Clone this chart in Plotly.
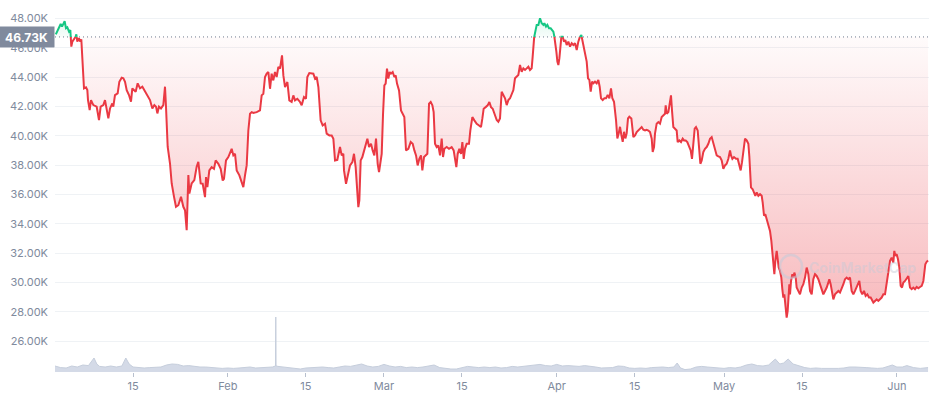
import numpy as np
import pandas as pd
import plotly.graph_objects as go

START = pd.Timestamp("2022-01-01 00:00")
BASE_PRICE = 46730.0

# ---- price data: day offsets from 2022-01-01 and prices in thousands USD ----
jan_days = [0.15, 0.6, 1.02, 1.26, 1.5, 1.73, 1.97, 2.21, 2.51, 2.75,
            2.93, 3.11, 3.41, 3.65, 3.83, 4.0, 4.3, 4.54, 4.72, 4.9,
            5.02, 5.2, 5.56, 5.8, 5.92, 6.22, 6.46, 6.88, 7.47, 7.89,
            8.19, 8.67, 8.97, 9.27, 9.57, 9.87, 10.28, 10.46, 10.76, 11.24,
            11.54, 11.96, 12.26, 12.56, 12.86, 13.27, 13.63, 13.87, 14.23, 14.47,
            14.83, 15.25, 15.67, 16.02, 16.62, 17.04, 17.46, 17.82, 18.12, 18.36,
            18.65, 19.01, 19.43, 19.73, 19.91, 20.21, 20.63, 20.93, 21.35, 21.7,
            22.12, 22.6, 23.02, 23.32, 23.62, 23.92, 24.1, 24.51, 24.99, 25.41,
            25.71, 26.13, 26.49, 26.73, 26.91, 27.09, 27.33, 27.68, 28.1, 28.52,
            28.82, 29.3, 29.72, 30.08, 30.31, 30.67]
jan_prices_k = [46.9, 47.32, 47.61, 47.43, 47.7, 47.8, 47.32, 47.39, 47.09, 47.2,
                46.07, 46.41, 46.57, 46.7, 46.91, 46.41, 46.64, 46.41, 46.57, 45.16,
                43.8, 43.23, 43.3, 43.11, 42.43, 41.75, 42.43, 42.09, 41.98, 41.07,
                41.98, 42.09, 42.43, 41.75, 41.18, 41.86, 42.2, 41.98, 42.77, 42.89,
                43.68, 43.95, 43.91, 43.68, 43.11, 42.77, 42.32, 43.23, 43.11, 43.0,
                43.57, 43.23, 43.34, 43.11, 42.77, 42.43, 41.86, 42.09, 41.98, 41.52,
                41.98, 41.86, 42.09, 43.34, 41.98, 39.25, 38.11, 36.75, 35.84, 35.16,
                35.27, 35.84, 35.16, 34.93, 33.57, 37.32, 36.07, 36.75, 36.98, 37.89,
                38.23, 36.75, 36.73, 36.05, 35.82, 37.18, 36.5, 37.64, 37.86, 37.75,
                38.32, 38.09, 37.75, 36.95, 37.07, 38.32]

feb_days = [31.09, 31.69, 31.99, 32.29, 32.59, 33.07, 33.48, 33.78, 34.08, 34.38,
            34.68, 34.98, 35.28, 35.58, 36.17, 36.77, 37.07, 37.37, 37.67, 37.97,
            38.27, 38.57, 38.86, 39.16, 39.46, 39.76, 40.06, 40.36, 40.72, 40.96,
            41.26, 41.68, 42.03, 42.45, 42.75, 43.05, 43.47, 43.95, 44.25, 44.66,
            45.02, 45.26, 45.62, 46.34, 46.64, 46.94, 47.24, 47.65, 48.01, 48.43,
            48.73, 49.21, 49.63, 49.93, 50.23, 50.64, 51.12, 51.42, 51.72, 51.84,
            52.2, 52.62, 52.92, 53.34, 53.63, 53.93, 54.23, 54.41, 54.59, 54.83,
            55.13, 55.43, 55.73, 56.03, 56.33, 56.68, 56.98, 57.28, 57.58, 57.88,
            58.12, 58.36, 58.6, 58.84]
feb_prices_k = [38.55, 39.11, 38.66, 38.77, 37.64, 37.3, 36.84, 36.5, 37.3, 37.98,
                40.36, 41.5, 41.61, 41.55, 41.61, 41.73, 42.75, 42.86, 44.0, 44.23,
                44.34, 43.2, 44.23, 43.77, 44.34, 44.0, 44.68, 44.57, 45.48, 44.11,
                43.32, 43.66, 42.41, 42.3, 42.75, 42.41, 42.52, 42.3, 42.07, 42.64,
                42.52, 44.0, 44.27, 44.23, 43.89, 44.0, 43.32, 41.05, 40.7, 40.82,
                40.14, 40.02, 40.02, 39.8, 38.32, 38.36, 39.23, 38.66, 38.77, 37.64,
                36.73, 37.52, 37.98, 38.2, 38.77, 37.86, 35.59, 35.14, 35.59, 38.32,
                38.55, 39.0, 39.34, 39.8, 39.23, 39.45, 39.0, 38.66, 39.8, 38.09,
                37.52, 38.32, 38.77, 41.5]

mar_days = [59.08, 59.31, 59.55, 59.79, 60.03, 60.27, 60.57, 60.87, 61.11, 61.35,
            61.71, 62.06, 62.36, 62.66, 62.96, 63.38, 63.8, 64.16, 64.46, 64.76,
            65.05, 65.35, 65.65, 65.89, 66.19, 66.49, 66.79, 67.09, 67.39, 67.69,
            67.92, 68.16, 68.46, 68.76, 69.06, 69.36, 69.6, 69.84, 70.26, 70.67,
            71.15, 71.51, 71.75, 71.99, 72.23, 72.53, 72.83, 73.07, 73.31, 73.54,
            73.84, 74.26, 74.5, 74.86, 75.22, 75.64, 76.06, 76.41, 76.65, 76.89,
            77.25, 77.61, 77.91, 78.21, 78.51, 78.93, 79.23, 79.52, 79.82, 80.12,
            80.42, 80.72, 81.02, 81.32, 81.62, 81.92, 82.22, 82.51, 82.81, 83.11,
            83.41, 83.71, 84.01, 84.31, 84.61, 84.91, 85.2, 85.5, 85.68, 85.92,
            86.1, 86.4, 86.7, 87.0, 87.3, 87.6, 87.78, 88.07, 88.31, 88.61,
            88.91, 89.21, 89.39, 89.57, 89.75, 89.93]
mar_prices_k = [43.43, 43.55, 44.57, 43.89, 44.34, 44.23, 44.34, 44.0, 44.11, 43.55,
                43.09, 41.73, 41.5, 41.27, 39.0, 39.11, 39.57, 39.45, 39.0, 38.66,
                37.98, 38.43, 38.66, 37.64, 38.55, 38.66, 38.77, 42.18, 42.3, 42.07,
                41.61, 39.45, 39.23, 39.34, 38.66, 39.8, 38.55, 39.11, 39.23, 39.11,
                39.23, 39.0, 38.55, 37.86, 38.77, 39.11, 38.77, 39.57, 38.43, 39.11,
                39.45, 39.45, 40.36, 41.27, 41.05, 40.82, 40.7, 40.59, 41.16, 41.84,
                41.95, 42.07, 42.3, 41.95, 41.84, 41.3, 41.07, 40.95, 41.18, 43.0,
                42.77, 42.55, 42.09, 42.43, 42.55, 42.89, 43.11, 43.91, 44.02, 44.14,
                44.82, 44.36, 44.59, 44.48, 44.59, 44.7, 44.48, 44.59, 45.39, 46.64,
                47.09, 47.55, 47.55, 48.0, 47.66, 47.55, 47.66, 47.43, 47.55, 47.32,
                47.32, 47.2, 47.09, 46.75, 45.95, 45.73]

apr_days = [90.11, 90.29, 90.47, 90.65, 90.83, 91.06, 91.3, 91.54, 91.78, 92.08,
            92.38, 92.68, 92.98, 93.28, 93.58, 93.87, 94.17, 94.41, 94.59, 94.83,
            95.07, 95.37, 95.61, 95.85, 96.09, 96.33, 96.56, 96.86, 97.16, 97.46,
            97.7, 97.94, 98.24, 98.54, 98.84, 99.14, 99.44, 99.73, 99.97, 100.27,
            100.63, 100.87, 101.11, 101.35, 101.59, 101.83, 102.07, 102.31, 102.54, 102.78,
            103.02, 103.38, 103.74, 104.04, 104.34, 104.63, 104.93, 105.23, 105.53, 105.83,
            106.13, 106.43, 106.73, 107.03, 107.21, 107.45, 107.62, 107.92, 108.22, 108.52,
            108.82, 109.12, 109.42, 109.54, 109.72, 110.02, 110.31, 110.49, 110.67, 110.91,
            111.21, 111.51, 111.69, 111.99, 112.29, 112.59, 112.83, 113.13, 113.42, 113.72,
            114.02, 114.26, 114.5, 114.74, 114.98, 115.28, 115.52, 115.76, 116.0, 116.29,
            116.59, 116.89, 117.19, 117.49, 117.79, 118.09, 118.39, 118.69, 118.98, 119.28,
            119.58, 119.88]
apr_prices_k = [45.05, 44.82, 45.27, 46.07, 46.75, 46.75, 46.41, 46.52, 46.18, 46.41,
                46.07, 46.3, 46.18, 46.3, 45.84, 46.41, 46.75, 46.86, 46.52, 45.84,
                45.39, 45.05, 43.91, 43.8, 43.0, 43.68, 43.57, 43.68, 43.57, 43.8,
                43.34, 42.55, 42.43, 42.55, 42.55, 42.77, 42.55, 43.23, 42.55, 42.32,
                41.07, 39.82, 40.16, 40.61, 40.05, 39.59, 40.27, 39.82, 40.16, 41.18,
                41.3, 41.18, 39.91, 40.02, 40.25, 40.36, 40.48, 40.59, 40.41, 40.36,
                40.41, 40.36, 40.25, 39.8, 38.89, 39.23, 40.14, 40.82, 40.93, 40.82,
                41.27, 41.39, 41.5, 42.07, 41.5, 41.61, 42.18, 42.75, 41.73, 40.59,
                40.48, 40.36, 39.57, 39.68, 39.57, 39.8, 39.68, 39.68, 39.57, 39.34,
                39.0, 38.43, 39.57, 40.48, 40.59, 40.36, 39.23, 38.09, 38.32, 38.89,
                39.11, 39.23, 39.45, 39.8, 39.91, 39.45, 39.0, 38.66, 38.59, 38.55,
                38.32, 37.75]

may_days = [120.18, 120.48, 120.78, 121.08, 121.26, 121.5, 121.79, 122.15, 122.45, 122.75,
            122.99, 123.23, 123.47, 123.77, 124.07, 124.37, 124.55, 124.84, 125.14, 125.38,
            125.62, 125.86, 126.16, 126.46, 126.76, 126.94, 127.18, 127.41, 127.65, 127.95,
            128.25, 128.49, 128.67, 128.85, 129.03, 129.21, 129.45, 129.63, 129.81, 130.04,
            130.28, 130.46, 130.64, 130.82, 131.06, 131.24, 131.42, 131.6, 131.72, 131.84,
            132.02, 132.26, 132.44, 132.62, 132.86, 133.03, 133.33, 133.63, 133.93, 134.23,
            134.53, 134.83, 135.13, 135.43, 135.73, 136.02, 136.32, 136.62, 136.92, 137.22,
            137.52, 137.82, 138.12, 138.42, 138.71, 138.89, 139.13, 139.37, 139.61, 139.91,
            140.21, 140.51, 140.81, 141.11, 141.41, 141.7, 142.0, 142.3, 142.6, 142.9,
            143.2, 143.5, 143.8, 144.1, 144.27, 144.51, 144.81, 145.11, 145.41, 145.71,
            146.01, 146.31, 146.61, 146.79, 147.09, 147.38, 147.68, 147.98, 148.28, 148.58,
            148.88, 149.06, 149.3, 149.54, 149.78, 150.07, 150.37, 150.55, 150.73, 150.97]
may_prices_k = [37.98, 38.09, 38.43, 39.0, 38.66, 38.43, 38.55, 38.43, 38.43, 37.98,
                37.64, 38.2, 38.89, 39.8, 39.68, 39.45, 38.55, 36.48, 36.36, 36.14,
                35.91, 36.14, 35.91, 36.02, 35.91, 35.45, 34.55, 34.66, 34.32, 33.98,
                33.52, 32.84, 31.93, 31.14, 30.57, 31.48, 32.16, 31.59, 31.02, 30.8,
                30.34, 29.55, 28.98, 29.2, 28.07, 27.61, 28.07, 29.43, 29.89, 29.2,
                30.11, 30.57, 30.34, 30.68, 30.34, 29.66, 29.43, 29.2, 29.66, 29.89,
                30.34, 31.02, 30.57, 29.43, 29.2, 30.23, 30.57, 30.45, 30.23, 29.89,
                29.55, 29.2, 29.43, 29.66, 30.0, 30.23, 29.89, 29.2, 28.86, 29.2,
                29.32, 29.43, 29.32, 29.55, 29.89, 30.23, 30.34, 30.23, 30.34, 29.43,
                29.2, 29.43, 29.66, 29.89, 30.11, 29.43, 29.2, 29.43, 29.09, 29.2,
                28.98, 28.98, 28.75, 28.64, 28.75, 28.86, 28.75, 28.86, 28.98, 29.2,
                29.2, 29.66, 30.34, 31.02, 31.48, 31.7, 31.36, 32.16, 31.82, 31.93]

jun_days = [151.21, 151.45, 151.69, 151.93, 152.17, 152.47, 152.77, 153.06, 153.36, 153.66,
            153.96, 154.26, 154.56, 154.86, 155.16, 155.46, 155.76, 155.93, 156.11, 156.35,
            156.6]
jun_prices_k = [31.59, 31.02, 29.77, 29.66, 30.0, 30.11, 30.34, 30.45, 29.66, 29.55,
                29.66, 29.55, 29.7, 29.61, 29.7, 29.77, 30.11, 30.8, 31.25, 31.41,
                31.5]

# ---- volume (billions USD) ----
vol_days = [0, 1, 2, 3, 4, 5, 6, 7, 7.5, 8, 9, 10, 11, 12, 12.7, 13.3, 14, 15, 16, 17,
            18, 19, 20, 21, 22, 23, 24, 25, 26, 27, 28, 29, 30, 31, 32, 33, 34, 35, 36, 37,
            38, 39, 39.55, 39.6, 39.65, 40, 41, 42, 43, 44, 45, 46, 47, 48, 49, 50, 51, 52, 53, 54,
            55, 56, 57, 58, 59, 60, 61, 62, 63, 64, 65, 66, 67, 68, 69, 70, 71, 72, 73, 74,
            75, 76, 77, 78, 79, 80, 81, 82, 83, 84, 85, 86, 87, 88, 89, 90, 91, 92, 93, 94,
            95, 96, 97, 98, 99, 100, 101, 102, 103, 104, 105, 106, 107, 108, 109, 110, 111, 111.6, 112.2, 113,
            114, 115, 116, 117, 118, 119, 120, 121, 122, 123, 124, 125, 126, 127, 128, 129.2, 130, 130.7, 131.5, 132.4,
            133.5, 134.5, 135.5, 136.5, 137.5, 138.5, 139.5, 140.5, 141.5, 142.5, 143.5, 144.5, 145.5, 146.5, 147.5, 148.5, 149.5, 150.2, 151, 152,
            152.8, 154, 155.2, 156.6]
vol_billions = [30, 22, 20, 30, 25, 35, 32, 70, 40, 28, 25, 30, 25, 30, 70, 40, 25, 22, 20, 22,
                22, 25, 35, 40, 38, 30, 32, 28, 25, 25, 22, 20, 18, 20, 18, 20, 22, 25, 20, 22,
                25, 25, 30, 275, 30, 28, 25, 22, 20, 15, 20, 22, 22, 25, 22, 20, 25, 30, 28, 35,
                40, 30, 25, 28, 38, 30, 25, 28, 22, 25, 22, 25, 30, 35, 22, 18, 15, 15, 22, 28,
                25, 22, 25, 22, 25, 20, 22, 28, 25, 28, 30, 35, 38, 32, 30, 38, 30, 32, 30, 28,
                32, 30, 25, 20, 20, 22, 30, 28, 20, 18, 20, 18, 22, 25, 25, 22, 25, 45, 20, 12,
                15, 25, 28, 25, 22, 20, 18, 22, 20, 25, 35, 40, 32, 30, 35, 65, 40, 45, 65, 40,
                30, 22, 18, 20, 18, 18, 15, 18, 20, 25, 25, 22, 22, 20, 18, 20, 28, 35, 25, 25,
                32, 22, 18, 22]

x_tick_dates = ["2022-01-15", "2022-02-01", "2022-02-15", "2022-03-01", "2022-03-15",
                "2022-04-01", "2022-04-15", "2022-05-01", "2022-05-15", "2022-06-01"]
x_tick_labels = ["15", "Feb", "15", "Mar", "15", "Apr", "15", "May", "15", "Jun"]
y_tick_values = [26000, 28000, 30000, 32000, 34000, 36000, 38000, 40000, 42000, 44000, 46000, 48000]
y_tick_labels = ["26.00K", "28.00K", "30.00K", "32.00K", "34.00K", "36.00K", "38.00K",
                 "40.00K", "42.00K", "44.00K", "46.00K", "48.00K"]

# ---- build series ----
days = np.array(jan_days + feb_days + mar_days + apr_days + may_days + jun_days, dtype=float)
prices = np.array(jan_prices_k + feb_prices_k + mar_prices_k + apr_prices_k
                  + may_prices_k + jun_prices_k, dtype=float) * 1000.0
n = min(len(days), len(prices))
days, prices = days[:n], prices[:n]
order = np.argsort(days, kind="stable")
days, prices = days[order], prices[order]

# insert baseline crossings so the line can switch colour exactly at the baseline
aug_d, aug_p = [days[0]], [prices[0]]
for i in range(1, n):
    d0, p0, d1, p1 = days[i - 1], prices[i - 1], days[i], prices[i]
    if (p0 - BASE_PRICE) * (p1 - BASE_PRICE) < 0:
        t = (BASE_PRICE - p0) / (p1 - p0)
        aug_d.append(d0 + t * (d1 - d0))
        aug_p.append(BASE_PRICE)
    aug_d.append(d1)
    aug_p.append(p1)
aug_d = np.array(aug_d)
aug_p = np.array(aug_p)
xs = START + pd.to_timedelta(aug_d, unit="D")

red_y = [p if p <= BASE_PRICE else None for p in aug_p]
green_y = [p if p >= BASE_PRICE else None for p in aug_p]

vm = min(len(vol_days), len(vol_billions))
vol_x = START + pd.to_timedelta(np.array(vol_days[:vm], dtype=float), unit="D")
vol_y = vol_billions[:vm]

Y_MIN, Y_MAX = 23909, 49246
X_END = START + pd.to_timedelta(156.77, unit="D")

RED = "#EA3943"
GREEN = "#16C784"
GREY = "#808A9D"
NOLINE = dict(color="rgba(0,0,0,0)", width=0)

fig = go.Figure()

fig.add_trace(go.Scatter(x=vol_x, y=vol_y, yaxis="y2", mode="lines", fill="tozeroy",
                         line=dict(color="#C6CEDC", width=1),
                         fillcolor="rgba(207,214,228,0.9)", hoverinfo="skip"))

fig.add_trace(go.Scatter(x=xs, y=[BASE_PRICE] * len(xs), mode="lines", line=NOLINE,
                         hoverinfo="skip"))
fig.add_trace(go.Scatter(x=xs, y=np.minimum(aug_p, BASE_PRICE), mode="lines", line=NOLINE,
                         fill="tonexty", fillcolor="rgba(234,57,67,0.15)",
                         fillgradient=dict(type="vertical",
                                           colorscale=[[0, "rgba(234,57,67,0.42)"],
                                                       [1, "rgba(234,57,67,0.02)"]],
                                           start=Y_MIN, stop=BASE_PRICE),
                         hoverinfo="skip"))
fig.add_trace(go.Scatter(x=xs, y=[BASE_PRICE] * len(xs), mode="lines", line=NOLINE,
                         hoverinfo="skip"))
fig.add_trace(go.Scatter(x=xs, y=np.maximum(aug_p, BASE_PRICE), mode="lines", line=NOLINE,
                         fill="tonexty", fillcolor="rgba(22,199,132,0.1)",
                         fillgradient=dict(type="vertical",
                                           colorscale=[[0, "rgba(22,199,132,0.03)"],
                                                       [1, "rgba(22,199,132,0.25)"]],
                                           start=BASE_PRICE, stop=Y_MAX),
                         hoverinfo="skip"))

fig.add_trace(go.Scatter(x=[START, X_END], y=[BASE_PRICE, BASE_PRICE], mode="lines",
                         line=dict(color="#6F7A8E", width=1, dash="1px,3px"), hoverinfo="skip"))

fig.add_trace(go.Scatter(x=xs, y=red_y, mode="lines", line=dict(color=RED, width=2),
                         connectgaps=False))
fig.add_trace(go.Scatter(x=xs, y=green_y, mode="lines", line=dict(color=GREEN, width=2),
                         connectgaps=False))

fig.update_layout(
    template="none",
    width=929, height=400,
    margin=dict(l=55, r=0, t=0, b=28),
    paper_bgcolor="white", plot_bgcolor="white",
    showlegend=False, hovermode=False,
    font=dict(family="Inter, Roboto, sans-serif", size=11, color=GREY),
    xaxis=dict(type="date", range=[START, X_END], tickvals=x_tick_dates, ticktext=x_tick_labels,
               showgrid=False, zeroline=False, showline=False, ticks="outside", ticklen=4,
               tickcolor="#B8C0CE", tickwidth=1, automargin=False,
               tickfont=dict(family="Inter", size=11, color=GREY)),
    yaxis=dict(range=[Y_MIN, Y_MAX], tickvals=y_tick_values, ticktext=y_tick_labels,
               showgrid=True, gridcolor="#EFF2F5", gridwidth=1, zeroline=False, showline=False,
               ticks="", ticklabelstandoff=6, automargin=False,
               tickfont=dict(family="Inter", size=11, color=GREY)),
    yaxis2=dict(overlaying="y", range=[0, 1860], visible=False, fixedrange=True),
    annotations=[
        dict(xref="paper", x=0, xanchor="right", yref="y", y=BASE_PRICE, yanchor="middle",
             text="<b>46.73K</b>", showarrow=False, bgcolor=GREY, borderpad=2,
             width=51, height=16, align="center",
             font=dict(family="Inter", size=12, color="white")),
        dict(xref="paper", x=0.860, xanchor="left", yref="paper", y=0.282, yanchor="middle",
             text="<b>CoinMarketCap</b>", showarrow=False,
             font=dict(family="Inter", size=14, color="rgba(195,202,216,0.45)")),
    ],
    shapes=[
        dict(type="circle", xref="paper", yref="paper", x0=0.8295, x1=0.8547, y0=0.2527, y1=0.3145,
             line=dict(color="rgba(195,202,216,0.55)", width=2.5)),
    ],
)

fig.write_html("out.html", config={"displayModeBar": False},
               post_script="document.body.style.margin='0px';")
